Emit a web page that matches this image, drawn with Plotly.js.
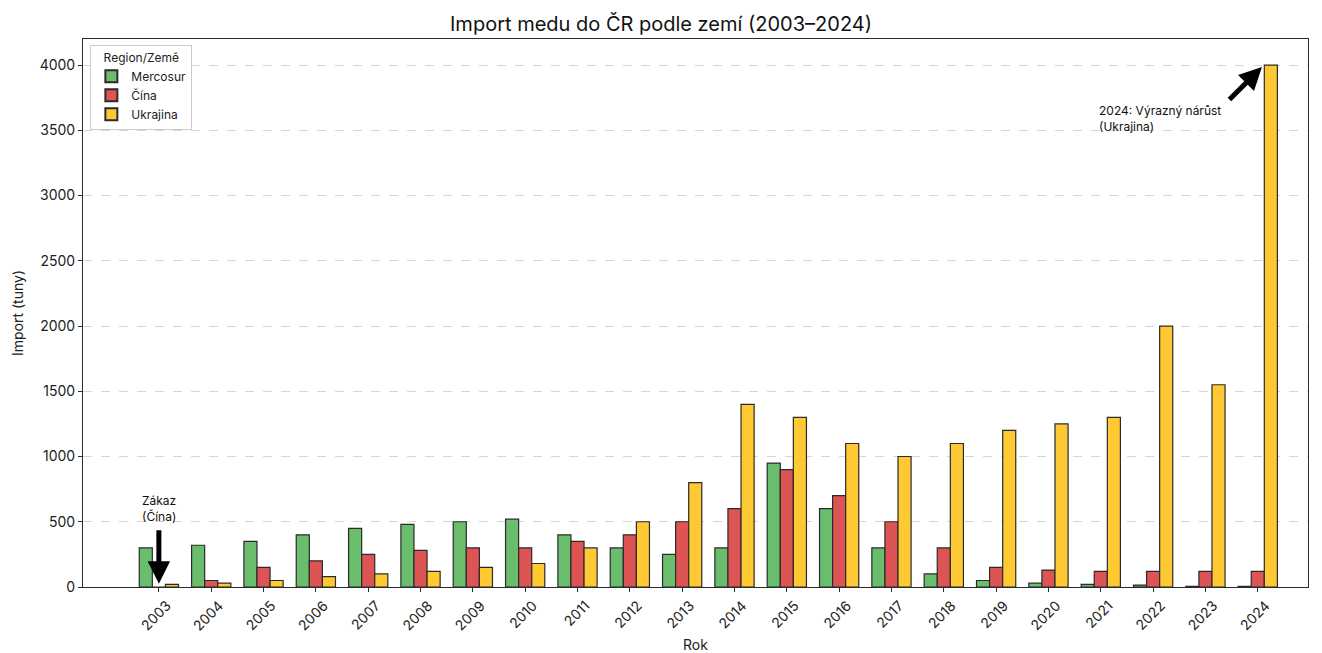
<!DOCTYPE html>
<html>
<head>
<meta charset="utf-8">
<script src="https://cdn.plot.ly/plotly-3.0.1.min.js"></script>
<style>
  html, body { margin: 0; padding: 0; background: #fff; }
  #chart { width: 1322px; height: 653px; }
</style>
</head>
<body>
<div id="chart"></div>
<script>
// years on the x axis
const years = [2003, 2004, 2005, 2006, 2007, 2008, 2009, 2010, 2011, 2012, 2013,
               2014, 2015, 2016, 2017, 2018, 2019, 2020, 2021, 2022, 2023, 2024];

// import in tonnes
const mercosur = [300, 320, 350, 400, 450, 480, 500, 520, 400, 300, 250,
                  300, 950, 600, 300, 100, 50, 30, 20, 15, 5, 5];
const cina     = [0, 50, 150, 200, 250, 280, 300, 300, 350, 400, 500,
                  600, 900, 700, 500, 300, 150, 130, 120, 120, 120, 120];
const ukrajina = [20, 30, 50, 80, 100, 120, 150, 180, 300, 500, 800,
                  1400, 1300, 1100, 1000, 1100, 1200, 1250, 1300, 2000, 1550, 4000];

const yTicks = [0, 500, 1000, 1500, 2000, 2500, 3000, 3500, 4000];

const FONT = "Inter, 'DejaVu Sans', sans-serif";
const EDGE = "#2b2b2b";

function barTrace(name, values, color) {
    return {
        type   : "bar",
        name   : name,
        x      : years,
        y      : values,
        marker : { color: color, line: { color: EDGE, width: 1.2 } },
        hoverinfo : "x+y+name"
    };
}

const traces = [
    barTrace("Mercosur", mercosur, "#6bbd6e"),
    barTrace("Čína",     cina,     "#dc5454"),
    barTrace("Ukrajina", ukrajina, "#fec933")
];

const layout = {
    width  : 1322,
    height : 653,
    margin : { l: 83, r: 14, t: 39, b: 66 },
    paper_bgcolor : "#fff",
    plot_bgcolor  : "#fff",
    font : { family: FONT, size: 13, color: "#222" },
    title : {
        text : "Import medu do ČR podle zemí (2003–2024)",
        font : { size: 20, color: "#111" },
        x : 0.5, xanchor: "center",
        y : 1 - 24 / 653, yanchor: "middle"
    },
    barmode : "group",
    bargap : 0.25,
    bargroupgap : 0,
    xaxis : {
        range : [2001.55, 2024.96],
        tickmode : "array",
        tickvals : years,
        ticktext : years.map(String),
        tickangle : -45,
        ticklabelshift : 8,
        ticks : "outside", ticklen: 4, tickcolor: EDGE,
        showline : true, mirror: true, linecolor: EDGE, linewidth: 1,
        showgrid : false, zeroline: false,
        tickfont : { size: 14 },
        title : { text: "Rok", font: { size: 14 }, standoff: 10 }
    },
    yaxis : {
        range : [0, 4200],
        tickmode : "array",
        tickvals : yTicks,
        ticks : "outside", ticklen: 4, tickcolor: EDGE,
        showline : true, mirror: true, linecolor: EDGE, linewidth: 1,
        showgrid : true, gridcolor: "#d6d6d6", griddash: "dash", gridwidth: 1,
        zeroline : false,
        tickfont : { size: 14 },
        title : { text: "Import (tuny)", font: { size: 14 }, standoff: 12 }
    },
    legend : {
        x : 0.006, y : 0.989, xanchor: "left", yanchor: "top",
        bgcolor : "#fff", bordercolor: "#cccccc", borderwidth: 1,
        font : { size: 12 },
        title : { text: "Region/Země", side: "top center", font: { size: 12 } },
        traceorder : "normal",
        itemsizing : "constant"
    },
    annotations : [
        // arrow: ban on China
        {
            x: 2003, y: 25, xref: "x", yref: "y",
            text: "", showarrow: true,
            ax: 0, ay: -55, axref: "pixel", ayref: "pixel",
            arrowhead: 2, arrowsize: 0.9, arrowwidth: 5, arrowcolor: "#000"
        },
        {
            x: 2003, y: 605, xref: "x", yref: "y",
            text: "Zákaz<br>(Čína)", showarrow: false,
            align: "left", font: { size: 12, color: "#111" }
        },
        // arrow: Ukraine 2024
        {
            x: 2024.08, y: 3985, xref: "x", yref: "y",
            text: "", showarrow: true,
            ax: -34, ay: 34, axref: "pixel", ayref: "pixel",
            arrowhead: 2, arrowsize: 0.9, arrowwidth: 5, arrowcolor: "#000"
        },
        {
            x: 2020.92, y: 3587, xref: "x", yref: "y",
            xanchor: "left", yanchor: "middle",
            text: "2024: Výrazný nárůst<br>(Ukrajina)", showarrow: false,
            align: "left", font: { size: 12, color: "#111" }
        }
    ]
};

Plotly.newPlot("chart", traces, layout, { displayModeBar: false, staticPlot: true });
</script>
</body>
</html>
